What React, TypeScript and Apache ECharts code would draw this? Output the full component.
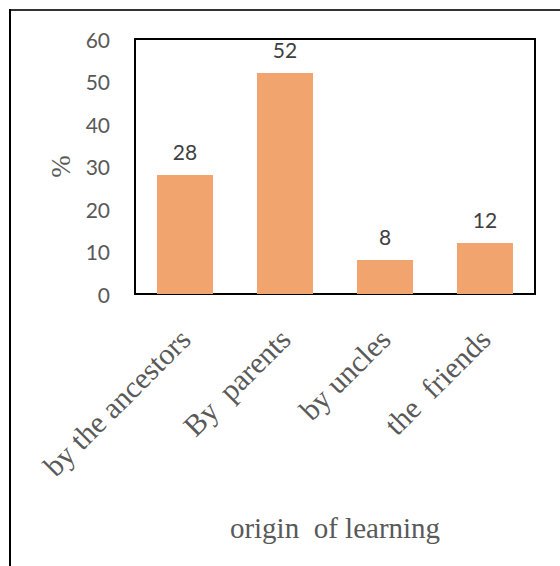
import React, { useEffect, useRef } from "react";
import * as echarts from "echarts";

// Where respondents learned (share of answers, %)
const categories: string[] = ["by the ancestors", "By  parents", "by uncles", "the  friends"];
const shares: number[] = [28, 52, 8, 12];
const yTicks = { min: 0, max: 60, interval: 10 };
const xTitle = "origin  of learning";
const yTitle = "%";

const GRAY = "#595959";
const BAR = "#F1A46E";
const SERIF = "'Liberation Serif', 'Times New Roman', serif";
const SANS = "Lato, 'Open Sans', sans-serif";

export default function App() {
  const ref = useRef<HTMLDivElement>(null);

  useEffect(() => {
    if (!ref.current) return;
    const chart = echarts.init(ref.current, undefined, { renderer: "svg" });
    chart.setOption({
      animation: false,
      backgroundColor: "#ffffff",
      grid: {
        left: 135,
        top: 39,
        right: 25,
        bottom: 272,
        show: true,
        borderColor: "#000000",
        borderWidth: 2,
        backgroundColor: "transparent",
      },
      xAxis: {
        type: "category",
        data: categories,
        name: xTitle,
        nameLocation: "middle",
        nameGap: 219,
        nameTextStyle: { fontFamily: SERIF, fontSize: 29, color: GRAY },
        axisLine: { show: false },
        axisTick: { show: false },
        axisLabel: {
          interval: 0,
          rotate: 45,
          margin: 40,
          fontFamily: SERIF,
          fontSize: 30,
          color: GRAY,
        },
      },
      yAxis: {
        type: "value",
        min: yTicks.min,
        max: yTicks.max,
        interval: yTicks.interval,
        name: yTitle,
        nameLocation: "middle",
        nameRotate: 90,
        nameGap: 60,
        nameTextStyle: { fontFamily: SERIF, fontSize: 27, color: GRAY },
        axisLine: { show: false },
        axisTick: { show: false },
        splitLine: { show: false },
        axisLabel: { margin: 25, fontFamily: SANS, fontSize: 21, color: GRAY },
      },
      series: [
        {
          type: "bar",
          data: shares,
          barWidth: 56,
          itemStyle: { color: BAR },
          label: {
            show: true,
            position: "top",
            distance: 13,
            fontFamily: SANS,
            fontSize: 21,
            color: "#404040",
          },
        },
      ],
      graphic: [
        {
          type: "line",
          shape: { x1: 10, y1: 10, x2: 560, y2: 10 },
          style: { stroke: "#333333", lineWidth: 2 },
        },
        {
          type: "line",
          shape: { x1: 10, y1: 9, x2: 10, y2: 566 },
          style: { stroke: "#000000", lineWidth: 2 },
        },
      ],
    });
    return () => chart.dispose();
  }, []);

  return (
    <div
      ref={ref}
      style={{ position: "fixed", left: 0, top: 0, width: 560, height: 566 }}
    />
  );
}
